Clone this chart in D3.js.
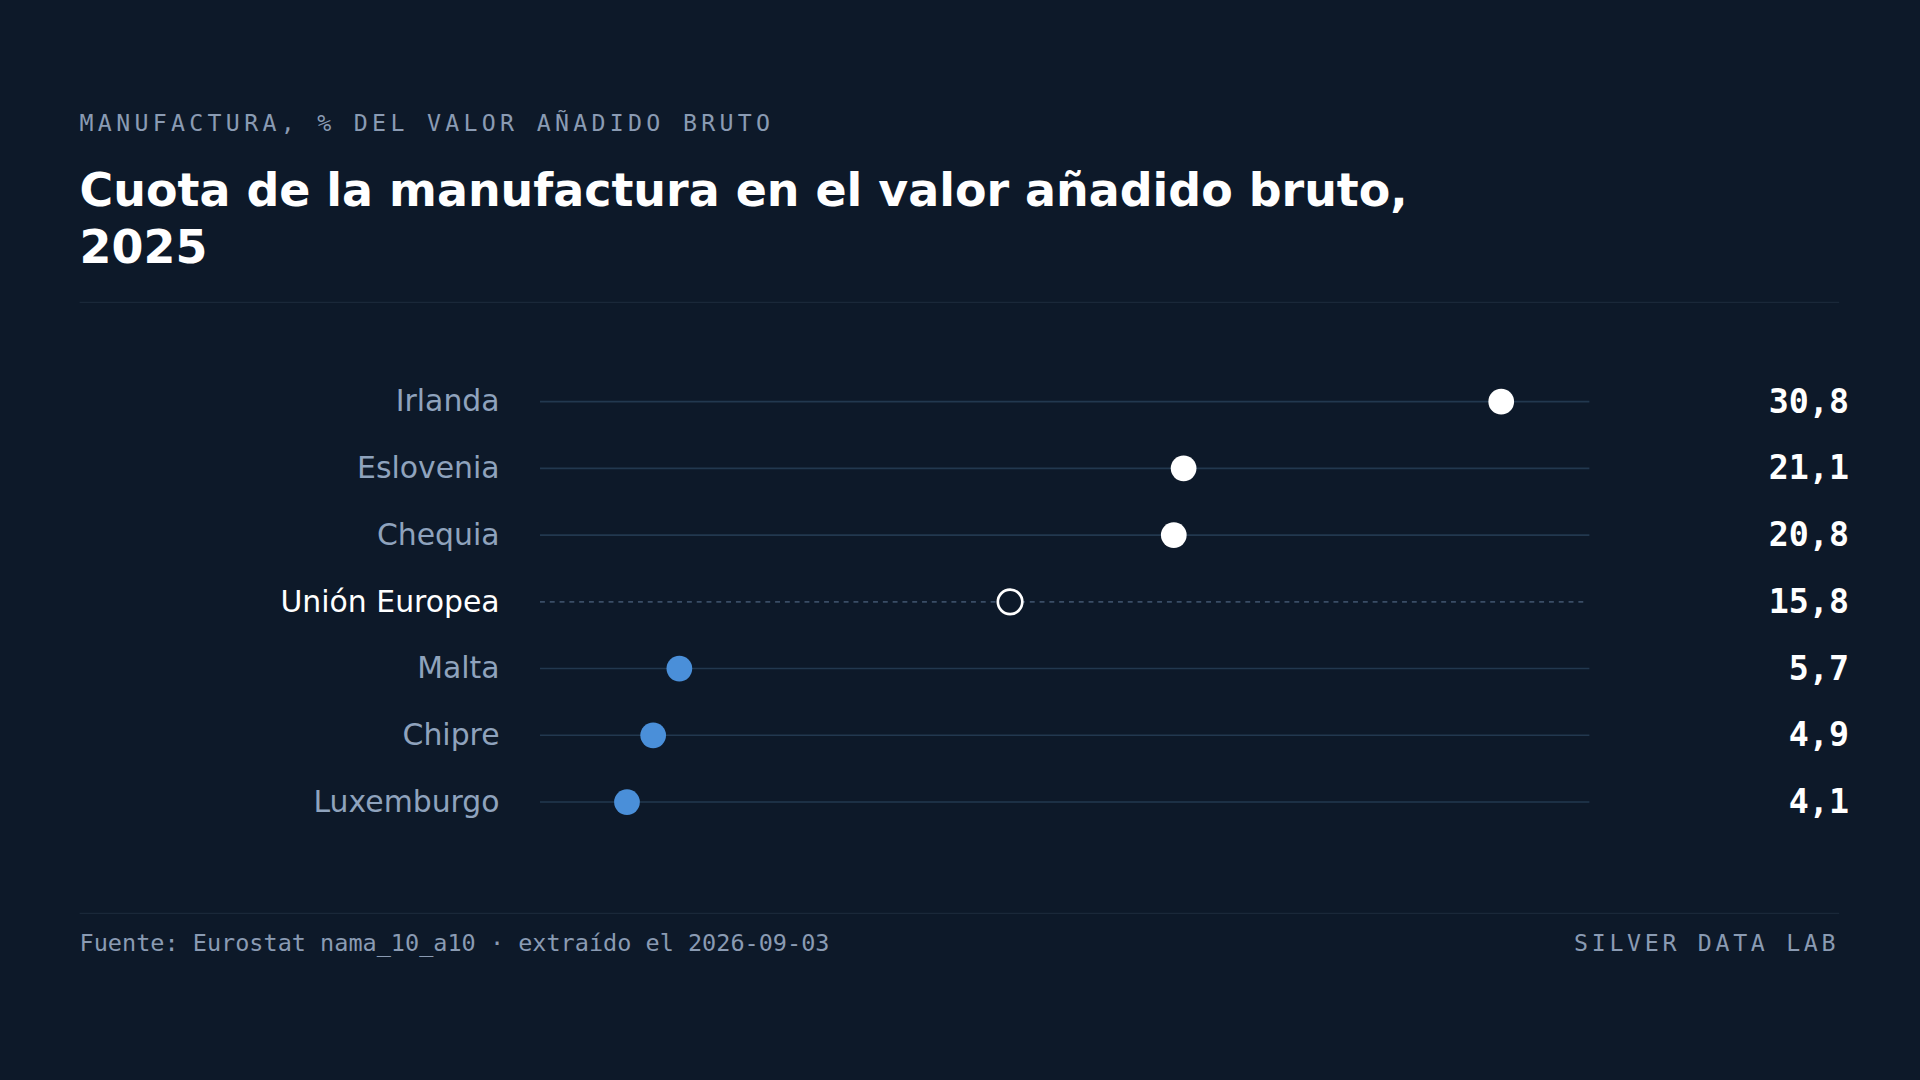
<!DOCTYPE html>
<html><head><meta charset="utf-8">
<script src="https://cdn.jsdelivr.net/npm/d3@7"></script>
<style>html,body{margin:0;padding:0;background:#0d1929;overflow:hidden}</style>
</head><body>
<svg id="c" width="1920" height="1080" viewBox="0 0 1568 882"></svg>
<script>
const countries = ["Irlanda","Eslovenia","Chequia","Unión Europea","Malta","Chipre","Luxemburgo"];
const values = [30.8,21.1,20.8,15.8,5.7,4.9,4.1];
const groups = ["high","high","high","eu","low","low","low"];

const svg = d3.select("#c");
svg.append("rect").attr("width",1568).attr("height",882).attr("fill","#0d1929");
const mono = "'DejaVu Sans Mono', monospace", sans = "'DejaVu Sans', sans-serif";

svg.append("text").attr("x",65).attr("y",107).text("MANUFACTURA, % DEL VALOR AÑADIDO BRUTO")
  .attr("font-family",mono).attr("font-size",19).attr("letter-spacing",3.5).attr("fill","#8a9bb3");
const t = svg.append("text").attr("font-family",sans).attr("font-weight","bold").attr("font-size",37.5).attr("fill","#ffffff");
t.append("tspan").attr("x",65).attr("y",168).text("Cuota de la manufactura en el valor añadido bruto,");
t.append("tspan").attr("x",65).attr("y",215).text("2025");
svg.append("line").attr("x1",65).attr("x2",1502).attr("y1",247).attr("y2",247).attr("stroke","#1a2839");

const x = d3.scaleLinear().domain([0,32]).range([402.4,402.4+32*26.74]);
const y = d3.scalePoint().domain(countries).range([328,655]);

const rows = svg.selectAll("g.row").data(countries.map((c,i)=>({c,v:values[i],g:groups[i]}))).join("g");
rows.append("line").attr("x1",441).attr("x2",d=>d.g==="eu"?1295:1298)
  .attr("y1",d=>y(d.c)).attr("y2",d=>y(d.c))
  .attr("stroke",d=>d.g==="eu"?"#3a4d66":"#22384f").attr("stroke-width",1.3)
  .attr("stroke-dasharray",d=>d.g==="eu"?"4,4":null);
rows.append("text").attr("x",408).attr("y",d=>y(d.c)+8).attr("text-anchor","end")
  .attr("font-family",sans).attr("font-size",24.4).attr("fill",d=>d.g==="eu"?"#ffffff":"#8fa3bd").text(d=>d.c);
rows.append("circle").attr("cx",d=>x(d.v)).attr("cy",d=>y(d.c)).attr("r",d=>d.g==="eu"?10:10.5)
  .attr("fill",d=>d.g==="eu"?"#0d1929":d.g==="low"?"#4a8fd9":"#ffffff")
  .attr("stroke",d=>d.g==="eu"?"#ffffff":"none").attr("stroke-width",2.2);
rows.append("text").attr("x",1510).attr("y",d=>y(d.c)+9).attr("text-anchor","end")
  .attr("font-family",mono).attr("font-weight","bold").attr("font-size",27.2).attr("fill","#ffffff")
  .text(d=>d3.format(".1f")(d.v).replace(".",","));

svg.append("line").attr("x1",65).attr("x2",1502).attr("y1",746).attr("y2",746).attr("stroke","#1a2839");
svg.append("text").attr("x",65).attr("y",777).text("Fuente: Eurostat nama_10_a10 · extraído el 2026-09-03")
  .attr("font-family",mono).attr("font-size",19.2).attr("fill","#8a9bb3");
svg.append("text").attr("x",1502).attr("y",777).attr("text-anchor","end").text("SILVER DATA LAB")
  .attr("font-family",mono).attr("font-size",19).attr("letter-spacing",3.0).attr("fill","#8a9bb3");
</script></body></html>
